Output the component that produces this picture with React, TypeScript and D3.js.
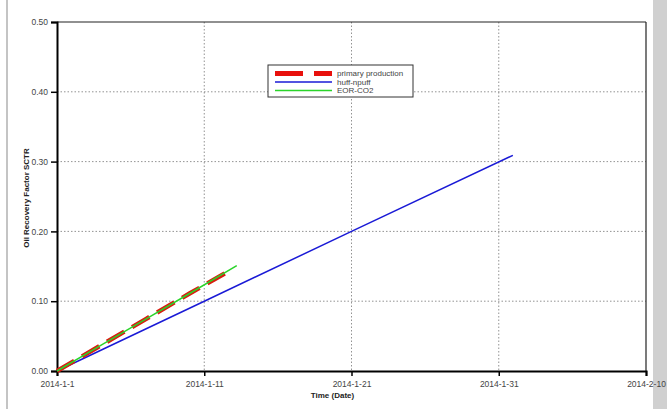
import React, { useEffect, useRef } from 'react';
import * as d3 from 'd3';

// values (date/time, recovery factor)
const primaryTimes = ['2014-01-01 00:00', '2014-01-04 00:00', '2014-01-07 00:00', '2014-01-10 00:00', '2014-01-12 16:00'];
const primaryValues = [0, 0.037, 0.074, 0.111, 0.143];

const huffTimes = ['2014-01-01 00:00', '2014-01-11 00:00', '2014-01-21 00:00', '2014-01-31 23:00'];
const huffValues = [0, 0.1, 0.2, 0.309];

const eorTimes = ['2014-01-01 00:00', '2014-01-04 00:00', '2014-01-07 00:00', '2014-01-10 00:00', '2014-01-13 05:00'];
const eorValues = [0, 0.037, 0.074, 0.111, 0.151];

const xTickDates = ['2014-01-01 00:00', '2014-01-11 00:00', '2014-01-21 00:00', '2014-01-31 00:00', '2014-02-10 00:00'];
const yTicks = [0, 0.1, 0.2, 0.3, 0.4, 0.5];

const legendItems = [
  { label: 'primary production', color: '#e8100c', width: 5, dash: '28,11' },
  { label: 'huff-npuff', color: '#1a1ad6', width: 1.5, dash: null },
  { label: 'EOR-CO2', color: '#2ad42a', width: 1.5, dash: null }
];

const parse = d3.timeParse('%Y-%m-%d %H:%M');
const fmt = (d: Date) => `${d.getFullYear()}-${d.getMonth() + 1}-${d.getDate()}`;
const font = 'Liberation Sans, Arial, sans-serif';

export default function App() {
  const svgRef = useRef<SVGSVGElement>(null);

  useEffect(() => {
    if (!svgRef.current) return;
    const svg = d3.select(svgRef.current);
    svg.selectAll('*').remove();

    const width = 667;
    const height = 409;
    const margin = { top: 22, right: 21, bottom: 38, left: 57 };
    const w = width - margin.left - margin.right;
    const h = height - margin.top - margin.bottom;

    svg.append('rect').attr('width', width).attr('height', height).attr('fill', '#fff');

    // left thin gray rule and right gray bar
    svg.append('rect').attr('x', 6).attr('y', 0).attr('width', 2).attr('height', height).attr('fill', '#c4c4c4');
    svg.append('rect').attr('x', 653).attr('y', 0).attr('width', 14).attr('height', height).attr('fill', '#d0d0d0');

    const g = svg.append('g').attr('transform', `translate(${margin.left}, ${margin.top})`);

    const xTicks = xTickDates.map(s => parse(s) as Date);
    const x = d3.scaleTime()
      .domain([xTicks[0], xTicks[xTicks.length - 1]])
      .range([0, w]);
    const y = d3.scaleLinear().domain([0, 0.5]).range([h, 0]);

    // grid
    g.selectAll('.hgrid')
      .data(yTicks.filter(t => t > 0 && t < 0.5))
      .enter().append('line')
      .attr('x1', 0).attr('x2', w)
      .attr('y1', d => y(d)).attr('y2', d => y(d))
      .attr('stroke', '#777').attr('stroke-width', 0.8).attr('stroke-dasharray', '1.5,2');
    g.selectAll('.vgrid')
      .data(xTicks.slice(1, -1))
      .enter().append('line')
      .attr('x1', d => x(d)).attr('x2', d => x(d))
      .attr('y1', 0).attr('y2', h)
      .attr('stroke', '#777').attr('stroke-width', 0.8).attr('stroke-dasharray', '1.5,2');

    // frame top/right
    g.append('line').attr('x1', 0).attr('x2', w).attr('y1', 0).attr('y2', 0).attr('stroke', '#222').attr('stroke-width', 1.2);
    g.append('line').attr('x1', w).attr('x2', w).attr('y1', 0).attr('y2', h).attr('stroke', '#222').attr('stroke-width', 1.2);

    // axes
    const xAxis = g.append('g')
      .attr('transform', `translate(0, ${h})`)
      .call(d3.axisBottom(x).tickValues(xTicks).tickFormat(d => fmt(d as Date)).tickSizeOuter(0).tickSize(5).tickPadding(5));
    const yAxis = g.append('g')
      .call(d3.axisLeft(y).tickValues(yTicks).tickFormat(d3.format('.2f')).tickSizeOuter(0).tickSize(6).tickPadding(3));

    [xAxis, yAxis].forEach(ax => {
      ax.select('.domain').attr('stroke', '#000').attr('stroke-width', 2);
      ax.selectAll('.tick line').attr('stroke', '#000').attr('stroke-width', 1.5);
      ax.selectAll('.tick text')
        .style('font-family', font)
        .style('font-size', '8.5px')
        .attr('fill', '#444');
    });

    // titles
    g.append('text')
      .attr('x', x(parse('2014-01-21 00:00') as Date) - 19)
      .attr('y', h + 27)
      .attr('text-anchor', 'middle')
      .style('font-family', font)
      .style('font-size', '8px')
      .style('font-weight', 'bold')
      .attr('fill', '#222')
      .text('Time (Date)');

    g.append('text')
      .attr('transform', `translate(${29 - margin.left}, ${198 - margin.top}) rotate(-90)`)
      .attr('text-anchor', 'middle')
      .style('font-family', font)
      .style('font-size', '8px')
      .style('font-weight', 'bold')
      .attr('fill', '#222')
      .text('Oil Recovery Factor SCTR');

    const line = d3.line<[Date, number]>()
      .x(d => x(d[0]))
      .y(d => y(d[1]));

    const zip = (times: string[], vals: number[]) =>
      times.map((t, i) => [parse(t) as Date, vals[i]] as [Date, number]);

    g.append('path')
      .datum(zip(huffTimes, huffValues))
      .attr('d', line)
      .attr('fill', 'none')
      .attr('stroke', legendItems[1].color)
      .attr('stroke-width', 1.5);

    g.append('path')
      .datum(zip(primaryTimes, primaryValues))
      .attr('d', line)
      .attr('fill', 'none')
      .attr('stroke', '#d81e10')
      .attr('stroke-width', 4.5)
      .attr('stroke-dasharray', '20,9');

    g.append('path')
      .datum(zip(eorTimes, eorValues))
      .attr('d', line)
      .attr('fill', 'none')
      .attr('stroke', legendItems[2].color)
      .attr('stroke-width', 1.5);

    // legend
    const legend = svg.append('g').attr('transform', 'translate(268, 65)');
    legend.append('rect')
      .attr('width', 145).attr('height', 32)
      .attr('fill', '#fff').attr('stroke', '#333').attr('stroke-width', 1);

    legendItems.forEach((item, i) => {
      const yy = 8.5 + i * 8.5;
      legend.append('line')
        .attr('x1', 7).attr('x2', 64)
        .attr('y1', yy).attr('y2', yy)
        .attr('stroke', item.color)
        .attr('stroke-width', item.width)
        .attr('stroke-dasharray', item.dash);
      legend.append('text')
        .attr('x', 69).attr('y', yy)
        .attr('dy', '0.35em')
        .style('font-family', font)
        .style('font-size', '8px')
        .attr('fill', '#444')
        .text(item.label);
    });
  }, []);

  return (
    <div style={{ position: 'absolute', left: 0, top: 0 }}>
      <svg ref={svgRef} width={667} height={409}></svg>
    </div>
  );
}
